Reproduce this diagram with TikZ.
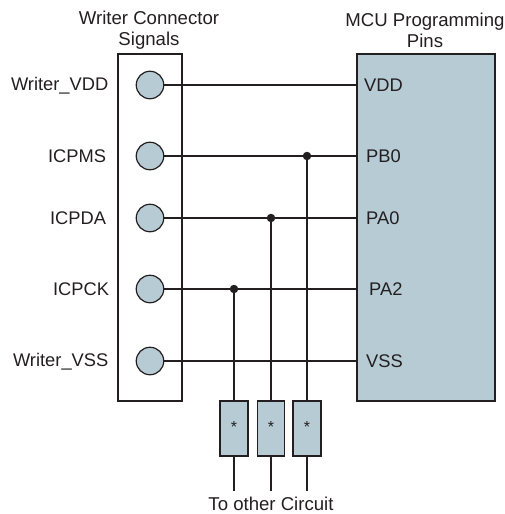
\documentclass[tikz,border=0pt]{standalone}
\usepackage{fontspec}
\setmainfont{Liberation Sans}
\definecolor{pinblue}{HTML}{B7CBD5}
\definecolor{inkc}{HTML}{231F20}
\tikzset{
  x=1pt,y=-1pt,
  wire/.style={draw=inkc,line width=1.2pt},
  pad/.style={circle,draw=inkc,line width=1.2pt,fill=pinblue,minimum size=27.5pt,inner sep=0pt},
  resbox/.style={draw=inkc,line width=1.2pt,fill=pinblue,minimum width=27pt,minimum height=55pt,inner sep=0pt},
  lab/.style={inkc,font=\fontsize{18.3}{20.5}\selectfont,inner sep=0pt},
  biglab/.style={inkc,font=\fontsize{18.6}{21}\selectfont,inner sep=0pt},
  jdot/.style={circle,fill=inkc,minimum size=8.5pt,inner sep=0pt},
  star/.style={inkc,font=\fontsize{16}{16}\selectfont,inner sep=0pt}
}
\begin{document}
\begin{tikzpicture}
\useasboundingbox (0,0) rectangle (505,514);
% boxes
\node[draw=inkc,line width=1.2pt,minimum width=64pt,minimum height=347pt,inner sep=0pt] (writer) at (150,227.5) {};
\node[draw=inkc,line width=1.2pt,fill=pinblue,minimum width=138pt,minimum height=347pt,inner sep=0pt] (mcu) at (426,227.5) {};
% headings
\node[biglab,align=center] (h1) at (149,30) {Writer Connector\\Signals};
\node[biglab,align=center] (h2) at (425,30) {MCU Programming\\Pins};
% pin coordinates on the MCU edge
\coordinate (p1) at (357,85);
\coordinate (p2) at (357,156);
\coordinate (p3) at (357,218);
\coordinate (p4) at (357,289);
\coordinate (p5) at (357,361);
% junction nodes
\node[jdot] (j2) at (307,156) {};
\node[jdot] (j3) at (271,218) {};
\node[jdot] (j4) at (234,289) {};
% wires
\node[pad] (c1) at (150,85) {};
\node[pad] (c2) at (150,156) {};
\node[pad] (c3) at (150,218) {};
\node[pad] (c4) at (150,289) {};
\node[pad] (c5) at (150,361) {};
\draw[wire] (c1) -- (p1);
\draw[wire] (c2) -- (p2);
\draw[wire] (c3) -- (p3);
\draw[wire] (c4) -- (p4);
\draw[wire] (c5) -- (p5);
% side labels
\node[lab,anchor=east] (l1) at (108.5,86) {Writer\_VDD};
\node[lab] (l2) at (77,156) {ICPMS};
\node[lab] (l3) at (78,218) {ICPDA};
\node[lab] (l4) at (81,289) {ICPCK};
\node[lab,anchor=east] (l5) at (108.5,362) {Writer\_VSS};
% pin labels
\node[lab,anchor=west] (v1) at (364,85) {VDD};
\node[lab,anchor=west] (v2) at (366,156) {PB0};
\node[lab,anchor=west] (v3) at (366,218) {PA0};
\node[lab,anchor=west] (v4) at (369,289) {PA2};
\node[lab,anchor=west] (v5) at (366,361) {VSS};
% resistors
\node[resbox,minimum width=28pt] (r1) at (234,428.5) {};
\node[resbox] (r2) at (271,428.5) {};
\node[resbox,minimum width=28pt] (r3) at (307,428.5) {};
\node[star] at (234,427) {*};
\node[star] at (271,427) {*};
\node[star] at (307,427) {*};
\coordinate (e1) at (234,491);
\coordinate (e2) at (271,491);
\coordinate (e3) at (307,491);
\draw[wire] (j2.center) -- (r3.north);
\draw[wire] (j3.center) -- (r2.north);
\draw[wire] (j4.center) -- (r1.north);
\draw[wire] (r1.south) -- (e1);
\draw[wire] (r2.south) -- (e2);
\draw[wire] (r3.south) -- (e3);
\node[biglab] (t) at (271,503.5) {To other Circuit};
\end{tikzpicture}
\end{document}
